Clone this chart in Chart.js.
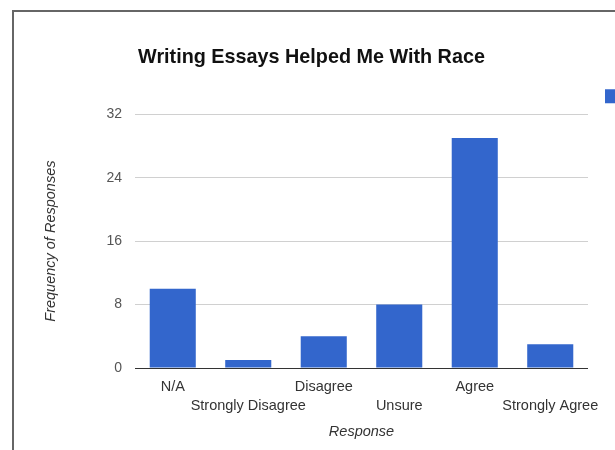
<!DOCTYPE html>
<html>
<head>
<meta charset="utf-8">
<script src="https://cdn.jsdelivr.net/npm/chart.js@4"></script>
<style>
  html, body { margin: 0; padding: 0; background: #fff; overflow: hidden; }
  #wrap { position: relative; width: 615px; height: 450px; }
  #frame { position: absolute; left: 12px; top: 10px; width: 700px; height: 500px;
           border-left: 2px solid #666; border-top: 2px solid #666; pointer-events: none; }
  canvas { position: absolute; left: 0; top: 0; }
</style>
</head>
<body>
<div id="wrap">
  <canvas id="chart" width="615" height="450"></canvas>
  <div id="frame"></div>
</div>
<script>
const categories = ['N/A', 'Strongly Disagree', 'Disagree', 'Unsure', 'Agree', 'Strongly Agree'];
const counts = [10, 1, 4, 8, 29, 3];
const yTicks = [0, 8, 16, 24, 32];

const FONT = '"Liberation Sans", Arial, sans-serif';
const BLUE = '#3366cc';

// stagger the category labels on two rows, like the original
const staggered = categories.map((c, i) => (i % 2 === 0 ? [c, ''] : ['', c]));

const swatchPlugin = {
  id: 'swatch',
  afterDraw(chart) {
    const ctx = chart.ctx;
    const area = chart.chartArea;
    ctx.save();
    ctx.fillStyle = chart.data.datasets[0].backgroundColor;
    ctx.fillRect(area.right + 17, area.top - 25, 14, 14);
    ctx.restore();
  }
};

const ctx = document.getElementById('chart').getContext('2d');
const chart = new Chart(ctx, {
  type: 'bar',
  data: {
    labels: staggered,
    datasets: [{
      label: 'Count',
      data: counts,
      backgroundColor: BLUE,
      barPercentage: 0.61,
      categoryPercentage: 1.0
    }]
  },
  options: {
    responsive: false,
    animation: false,
    layout: { padding: { left: 35, right: 27, top: 0, bottom: 0 } },
    plugins: {
      legend: { display: false },
      tooltip: { enabled: false },
      title: {
        display: true,
        text: 'Writing Essays Helped Me With Race',
        color: '#111',
        font: { family: FONT, size: 19.8, weight: 'bold', lineHeight: 1.2 },
        padding: { top: 45.5, bottom: 45 }
      }
    },
    scales: {
      x: {
        grid: { display: false },
        border: { display: false },
        ticks: {
          autoSkip: false,
          maxRotation: 0,
          minRotation: 0,
          padding: 1,
          color: '#333',
          font: { family: FONT, size: 14.5, lineHeight: '19px' }
        },
        title: {
          display: true,
          text: 'Response',
          color: '#333',
          font: { family: FONT, size: 14.5, style: 'italic' },
          padding: { top: 4, bottom: 9.3 }
        },
        afterFit(s) { s.height = 82; }
      },
      y: {
        min: 0,
        max: 32,
        afterBuildTicks(s) { s.ticks = yTicks.map(v => ({ value: v })); },
        grid: {
          drawTicks: false,
          color: c => (c.tick && c.tick.value === 0 ? '#333' : '#d0d0d0')
        },
        border: { display: false },
        ticks: {
          padding: 13,
          color: '#555',
          font: { family: FONT, size: 14 }
        },
        title: {
          display: true,
          text: 'Frequency of Responses',
          color: '#333',
          font: { family: FONT, size: 14.5, style: 'italic' },
          padding: { top: 7, bottom: 4 }
        },
        afterFit(s) { s.width = 100; }
      }
    }
  },
  plugins: [swatchPlugin]
});
</script>
</body>
</html>
